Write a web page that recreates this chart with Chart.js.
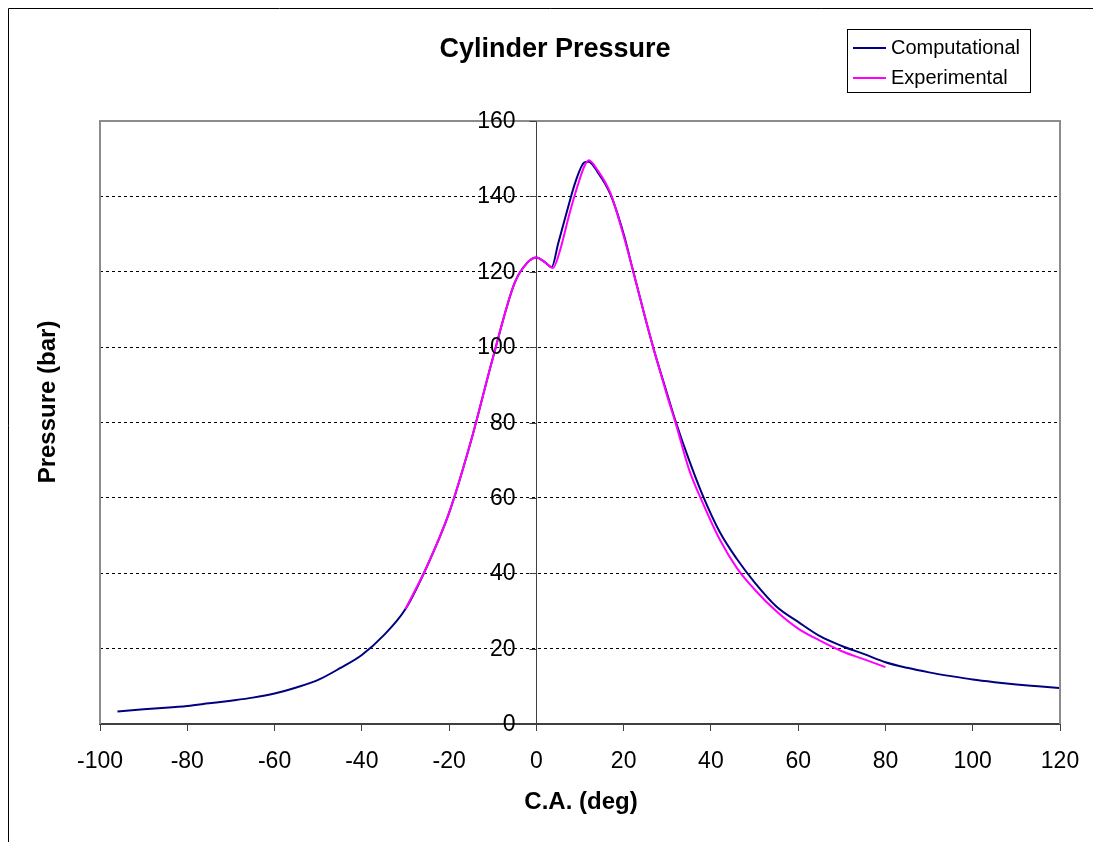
<!DOCTYPE html>
<html lang="en">
<head>
  <meta charset="UTF-8" />
  <title>Cylinder Pressure</title>
  <style>
    html, body { margin: 0; padding: 0; background: #fff; }
    #wrap { width: 1093px; height: 842px; }
  </style>
</head>
<body>
  <div id="wrap"><canvas id="pressureChart" width="1093" height="842"></canvas></div>

  <script src="https://cdn.jsdelivr.net/npm/chart.js"></script>
  <script>
    // crank angle (deg) / pressure (bar)
    const compAngle = [-96, -90, -85, -80, -75, -70, -65, -60, -55, -50, -45, -40, -35, -30, -25, -20, -15, -10, -5, -2, 0, 2, 3.5,
      5, 7, 9, 11, 12, 14, 17, 20, 22, 25, 27, 30, 32, 35, 38, 42, 46, 50, 55, 60, 65, 70, 75, 80, 85, 90, 95, 100, 105, 110, 115, 120];
    const compPressure = [3.3, 3.9, 4.3, 4.8, 5.5, 6.2, 7.0, 8.1, 9.7, 11.7, 14.8, 18.3, 23.5, 30.5, 42, 56, 75, 97, 117, 122.5, 123.8, 122.5, 121.2,
      127.5, 136, 144, 149, 149.2, 146.5, 140.5, 130, 121, 107.5, 99, 87.5, 80, 70, 61, 51, 43.7, 37.6, 31.2, 27.1, 23.3, 20.7, 18.6, 16.4, 14.9, 13.7, 12.7, 11.8, 11.1, 10.5, 10.0, 9.5];

    const expAngle = [-30, -25, -20, -15, -10, -5, -2, 0, 2, 3.8, 5.5, 7.5, 9.5, 11, 12, 14, 17, 20, 22, 25, 27, 30, 32, 35, 38, 42, 46, 50, 55, 60, 65, 70, 75, 80];
    const expPressure = [30.5, 42, 56, 75, 97, 117, 122.5, 123.8, 122.5, 121, 126, 135, 143, 148, 149.6, 147, 140.8, 129.5, 121, 107.5, 99, 87, 79.5, 67.5, 59, 49, 41.3, 35.7, 29.9, 25.3, 22.1, 19.3, 17.2, 15.1];

    const seriesNames = ["Computational", "Experimental"];
    const seriesColors = ["#000080", "#FF00FF"];

    const chartTitle = "Cylinder Pressure";
    const xTitle = "C.A. (deg)";
    const yTitle = "Pressure (bar)";

    const toPoints = (xs, ys) => xs.map((x, i) => ({ x, y: ys[i] }));
    const FONT = "'Liberation Sans', Arial, sans-serif";

    // frame, titles, y labels at x = 0, legend box
    const decor = {
      id: "decor",
      beforeDraw(chart) {
        const ctx = chart.ctx;
        ctx.save();
        ctx.strokeStyle = "#000";
        ctx.lineWidth = 1;
        ctx.beginPath();
        ctx.moveTo(8.5, 842);
        ctx.lineTo(8.5, 8.5);
        ctx.lineTo(1093, 8.5);
        ctx.stroke();
        ctx.restore();
      },
      afterDraw(chart) {
        const ctx = chart.ctx;
        const a = chart.chartArea;
        const xs = chart.scales.x, ys = chart.scales.y;
        ctx.save();
        // plot area frame (left, top, right)
        ctx.strokeStyle = "#8c8c8c";
        ctx.lineWidth = 2;
        ctx.beginPath();
        ctx.moveTo(a.left, a.bottom);
        ctx.lineTo(a.left, a.top);
        ctx.lineTo(a.right, a.top);
        ctx.lineTo(a.right, a.bottom);
        ctx.stroke();

        // y ticks + labels next to the axis that crosses at x = 0
        const x0 = Math.round(xs.getPixelForValue(0)) + 0.5;
        ctx.strokeStyle = "#404040";
        ctx.lineWidth = 1;
        ctx.fillStyle = "#000";
        ctx.font = "23px " + FONT;
        ctx.textAlign = "right";
        ctx.textBaseline = "middle";
        ys.ticks.forEach(t => {
          const py = Math.round(ys.getPixelForValue(t.value)) + 0.5;
          ctx.beginPath();
          ctx.moveTo(x0 - 7, py);
          ctx.lineTo(x0, py);
          ctx.stroke();
          ctx.fillText(String(t.value), x0 - 21, py);
        });

        ctx.textAlign = "center";
        ctx.font = "bold 27px " + FONT;
        ctx.fillText(chartTitle, 555, 50);

        ctx.font = "bold 24px " + FONT;
        ctx.fillText(xTitle, 581, 802);

        ctx.save();
        ctx.translate(48, 402);
        ctx.rotate(-Math.PI / 2);
        ctx.fillText(yTitle, 0, 0);
        ctx.restore();

        // legend
        ctx.strokeStyle = "#000";
        ctx.lineWidth = 1;
        ctx.strokeRect(847.5, 29.5, 183, 63);
        ctx.font = "20px " + FONT;
        ctx.textAlign = "left";
        chart.data.datasets.forEach((ds, i) => {
          const y = 48 + i * 30;
          ctx.strokeStyle = ds.borderColor;
          ctx.lineWidth = 2;
          ctx.beginPath();
          ctx.moveTo(853, y);
          ctx.lineTo(886, y);
          ctx.stroke();
          ctx.fillStyle = "#000";
          ctx.fillText(ds.label, 891, y);
        });
        ctx.restore();
      }
    };

    const ctx = document.getElementById("pressureChart").getContext("2d");
    new Chart(ctx, {
      type: "line",
      data: {
        datasets: [
          { label: seriesNames[0], data: toPoints(compAngle, compPressure), borderColor: seriesColors[0], borderWidth: 2, order: 1 },
          { label: seriesNames[1], data: toPoints(expAngle, expPressure), borderColor: seriesColors[1], borderWidth: 2, order: 0 }
        ]
      },
      options: {
        responsive: false,
        animation: false,
        events: [],
        layout: { padding: { left: 100, top: 121, right: 33, bottom: 0 } },
        elements: {
          point: { radius: 0 },
          line: { cubicInterpolationMode: "monotone", fill: false }
        },
        plugins: { legend: { display: false }, title: { display: false }, tooltip: { enabled: false } },
        scales: {
          x: {
            type: "linear",
            position: "bottom",
            min: -100, max: 120,
            afterFit: s => { s.height = 118; s.paddingLeft = 0; s.paddingRight = 0; },
            ticks: { stepSize: 20, color: "#000", font: { family: FONT, size: 23 }, padding: 17, maxRotation: 0 },
            grid: { drawOnChartArea: false, tickLength: 7, tickColor: "#404040", tickWidth: 1 },
            border: { color: "#404040", width: 2 }
          },
          y: {
            type: "linear",
            position: { x: 0 },
            min: 0, max: 160,
            ticks: { stepSize: 20, display: false },
            grid: {
              color: c => (c.tick && (c.tick.value === 0 || c.tick.value === 160)) ? "rgba(0,0,0,0)" : "#000",
              lineWidth: 1,
              drawTicks: false
            },
            border: { color: "#404040", width: 1, dash: [3, 3] }
          }
        }
      },
      plugins: [decor]
    });
  </script>
</body>
</html>
